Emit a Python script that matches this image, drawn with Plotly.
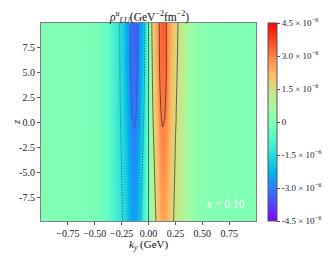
import numpy as np
import plotly.graph_objects as go

# ---- data (values in units of 1e-6 GeV^-2 fm^-2) ----
z_values = [-10.0, -7.5, -5.0, -2.5, -1.0, 0.0, 1.0, 2.5, 5.0, 7.5, 10.0]

ky_neg = [-1.0, -0.8, -0.6, -0.5, -0.4, -0.35, -0.3, -0.25, -0.2, -0.17, -0.15, -0.13, -0.11, -0.09, -0.07, -0.04, -0.02]
ky_mid = [0.0]
ky_pos = [0.02, 0.04, 0.07, 0.09, 0.11, 0.13, 0.15, 0.17, 0.20, 0.25, 0.30, 0.35, 0.40, 0.50, 0.60, 0.80, 1.0]

rho_neg = [
    [0, 0, -0.04, -0.13, -0.39, -0.71, -1.08, -1.42, -1.86, -2.30, -2.48, -2.55, -2.35, -1.95, -1.48, -0.95, -0.48],
    [0, 0, -0.04, -0.13, -0.40, -0.72, -1.10, -1.46, -1.94, -2.40, -2.60, -2.68, -2.47, -2.06, -1.60, -1.06, -0.54],
    [0, 0, -0.04, -0.13, -0.41, -0.74, -1.12, -1.50, -2.01, -2.50, -2.72, -2.80, -2.58, -2.18, -1.72, -1.16, -0.60],
    [0, 0, -0.04, -0.13, -0.41, -0.75, -1.14, -1.54, -2.09, -2.60, -2.83, -2.90, -2.70, -2.32, -1.85, -1.27, -0.66],
    [0, 0, -0.04, -0.14, -0.42, -0.75, -1.15, -1.57, -2.14, -2.66, -2.89, -2.95, -2.80, -2.45, -1.93, -1.34, -0.70],
    [0, 0, -0.04, -0.14, -0.42, -0.75, -1.16, -1.59, -2.18, -2.74, -2.98, -3.06, -2.92, -2.55, -1.99, -1.39, -0.73],
    [0, 0, -0.04, -0.14, -0.42, -0.75, -1.17, -1.60, -2.21, -2.82, -3.05, -3.12, -2.97, -2.62, -2.04, -1.43, -0.75],
    [0, 0, -0.04, -0.14, -0.42, -0.76, -1.18, -1.62, -2.26, -2.90, -3.12, -3.20, -3.03, -2.68, -2.12, -1.50, -0.79],
    [0, 0, -0.04, -0.14, -0.42, -0.77, -1.19, -1.64, -2.34, -2.97, -3.20, -3.30, -3.15, -2.72, -2.26, -1.62, -0.85],
    [0, 0, -0.04, -0.14, -0.43, -0.77, -1.20, -1.66, -2.42, -2.98, -3.28, -3.38, -3.20, -2.76, -2.40, -1.74, -0.92],
    [0, 0, -0.03, -0.14, -0.43, -0.78, -1.20, -1.68, -2.50, -3.00, -3.35, -3.45, -3.28, -2.80, -2.55, -1.85, -1.00],
]

rho_mid = [0.0] * 11

rho_pos = [
    [0.51, 1.02, 1.50, 1.95, 2.35, 2.55, 2.48, 2.30, 1.84, 1.33, 1.02, 0.69, 0.38, 0.13, 0.04, 0.01, 0.005],
    [0.57, 1.12, 1.63, 2.06, 2.47, 2.68, 2.60, 2.40, 1.92, 1.38, 1.05, 0.70, 0.39, 0.13, 0.04, 0.01, 0.005],
    [0.63, 1.22, 1.74, 2.18, 2.58, 2.80, 2.72, 2.50, 2.00, 1.43, 1.08, 0.72, 0.40, 0.13, 0.04, 0.01, 0.005],
    [0.69, 1.32, 1.87, 2.32, 2.70, 2.90, 2.83, 2.60, 2.09, 1.49, 1.12, 0.73, 0.40, 0.13, 0.04, 0.01, 0.005],
    [0.73, 1.39, 1.95, 2.45, 2.80, 2.95, 2.89, 2.66, 2.14, 1.52, 1.13, 0.74, 0.41, 0.14, 0.04, 0.01, 0.005],
    [0.76, 1.44, 2.01, 2.52, 2.90, 3.05, 2.98, 2.74, 2.18, 1.55, 1.15, 0.74, 0.41, 0.14, 0.04, 0.01, 0.005],
    [0.78, 1.48, 2.06, 2.60, 2.95, 3.12, 3.05, 2.82, 2.21, 1.56, 1.16, 0.74, 0.41, 0.14, 0.04, 0.01, 0.005],
    [0.82, 1.55, 2.15, 2.65, 3.00, 3.20, 3.12, 2.88, 2.26, 1.59, 1.18, 0.75, 0.41, 0.14, 0.04, 0.01, 0.005],
    [0.89, 1.67, 2.28, 2.70, 3.15, 3.30, 3.20, 2.95, 2.34, 1.64, 1.20, 0.76, 0.41, 0.14, 0.04, 0.01, 0.005],
    [0.97, 1.78, 2.42, 2.73, 3.20, 3.38, 3.28, 2.93, 2.42, 1.69, 1.23, 0.76, 0.42, 0.14, 0.04, 0.01, 0.005],
    [1.04, 1.91, 2.57, 2.75, 3.25, 3.47, 3.35, 2.90, 2.50, 1.74, 1.25, 0.76, 0.42, 0.14, 0.03, 0.01, 0.005],
]

x_ticks = [-0.75, -0.50, -0.25, 0.00, 0.25, 0.50, 0.75]
y_ticks = [-7.5, -5.0, -2.5, 0.0, 2.5, 5.0, 7.5]
cbar_ticks = [-4.5, -3.0, -1.5, 0.0, 1.5, 3.0, 4.5]
cbar_labels = ["-4.5 × 10<sup>−6</sup>", "-3.0 × 10<sup>−6</sup>", "-1.5 × 10<sup>−6</sup>", "0",
               "1.5 × 10<sup>−6</sup>", "3.0 × 10<sup>−6</sup>", "4.5 × 10<sup>−6</sup>"]
contour_neg_levels = (-3.0, -1.5)
contour_pos_levels = (0.0, 3.0)
level_step = 1.5
x_label_text = "0.10"

SCALE = 1e-6
ky = np.array(ky_neg + ky_mid + ky_pos)
rho = np.hstack([np.array(rho_neg), np.array(rho_mid)[:, None], np.array(rho_pos)]) * SCALE


def rainbow(t):
    r = min(1.0, abs(2 * t - 0.5))
    g = np.sin(np.pi * t)
    b = np.cos(np.pi * t / 2)
    return "rgb(%d,%d,%d)" % (round(255 * r), round(255 * max(g, 0)), round(255 * max(b, 0)))


colorscale = [[i / 40, rainbow(i / 40)] for i in range(41)]

FONT = "Liberation Serif, Times New Roman, serif"

fig = go.Figure()
fig.add_trace(go.Heatmap(
    x=ky, y=z_values, z=rho,
    colorscale=colorscale, zmin=-4.5 * SCALE, zmax=4.5 * SCALE,
    zsmooth="best",
    colorbar=dict(
        x=1.056, xanchor="left", xpad=0, ypad=0,
        y=0.5, yanchor="middle", len=1, lenmode="fraction",
        thickness=9, outlinewidth=1, outlinecolor="#555",
        tickvals=[v * SCALE for v in cbar_ticks], ticktext=cbar_labels,
        ticks="outside", ticklen=3, tickwidth=1, tickcolor="#555",
        tickfont=dict(family=FONT, size=9, color="#222"),
    ),
    hoverinfo="skip",
))
fig.add_trace(go.Contour(
    x=ky, y=z_values, z=rho,
    contours=dict(start=contour_neg_levels[0] * SCALE, end=contour_neg_levels[1] * SCALE,
                  size=level_step * SCALE, coloring="none"),
    line=dict(color="rgba(40,40,40,0.85)", width=0.8, dash="1.2px,1.5px", smoothing=1),
    showscale=False, hoverinfo="skip",
))
fig.add_trace(go.Contour(
    x=ky, y=z_values, z=rho,
    contours=dict(start=contour_pos_levels[0] * SCALE, end=contour_pos_levels[1] * SCALE,
                  size=level_step * SCALE, coloring="none"),
    line=dict(color="rgba(40,40,40,0.85)", width=0.8, smoothing=1),
    showscale=False, hoverinfo="skip",
))

axis_common = dict(
    showgrid=False, zeroline=False, showline=True, mirror=True,
    linecolor="#808080", linewidth=1.2, ticks="outside", ticklen=3, tickcolor="#555",
    tickfont=dict(family=FONT, size=10, color="#222"),
)
# page body has an 8px default margin, so the figure is sized to the visible part
fig.update_layout(
    width=327, height=251,
    margin=dict(l=33, r=79, t=15, b=38),
    paper_bgcolor="white", plot_bgcolor="white",
    showlegend=False,
    xaxis=dict(range=[-1.0, 1.0], tickvals=x_ticks,
               ticktext=["%.2f" % v if v >= 0 else "−%.2f" % -v for v in x_ticks], **axis_common),
    yaxis=dict(range=[-9.9, 9.9], tickvals=y_ticks,
               ticktext=["%.1f" % v if v >= 0 else "-%.1f" % -v for v in y_ticks], **axis_common),
    annotations=[
        dict(text="<i>ρ</i><sup><i>u</i></sup><sub><i>LU</i></sub>(GeV<sup>−2</sup>fm<sup>−2</sup>)",
             xref="paper", yref="paper", x=0.5, y=1.0, xanchor="center", yanchor="bottom",
             yshift=-4, showarrow=False, font=dict(family=FONT, size=11.5, color="#111")),
        dict(text="<i>k</i><sub><i>y</i></sub> (GeV)", xref="paper", yref="paper",
             x=0.5, y=-0.12, xanchor="center", yanchor="middle", showarrow=False,
             font=dict(family=FONT, size=11, color="#111")),
        dict(text="<i>z</i>", xref="paper", yref="paper", x=-0.1535, y=0.5,
             xanchor="left", yanchor="middle", textangle=-90, showarrow=False,
             font=dict(family=FONT, size=11, color="#111")),
        dict(text="<i>x</i> = " + x_label_text, xref="paper", yref="paper", x=0.856, y=0.086,
             xanchor="center", yanchor="middle", showarrow=False,
             font=dict(family=FONT, size=11.5, color="white")),
    ],
)

fig.write_html("out.html")
